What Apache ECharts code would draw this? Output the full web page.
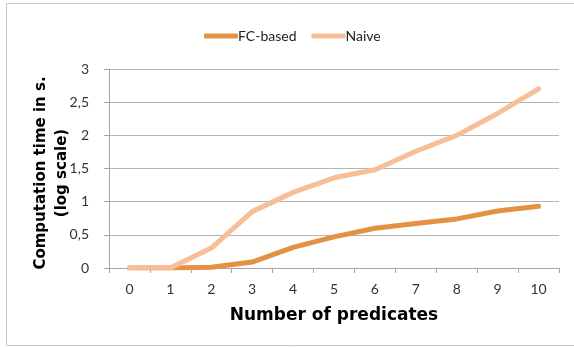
<!DOCTYPE html>
<html><head><meta charset="utf-8">
<script src="https://cdn.jsdelivr.net/npm/echarts@6/dist/echarts.min.js"></script>
<style>html,body{margin:0;padding:0;background:#fff}#c{width:574px;height:347px}</style>
</head><body><div id="c"></div>
<script>
var categories = ['0','1','2','3','4','5','6','7','8','9','10'];
var fcBased = [0, 0, 0.01, 0.09, 0.31, 0.47, 0.6, 0.67, 0.74, 0.86, 0.93];
var naive = [0, 0, 0.3, 0.85, 1.14, 1.36, 1.48, 1.76, 2.0, 2.33, 2.7];
var yTicks = [0, 0.5, 1, 1.5, 2, 2.5, 3];

var chart = echarts.init(document.getElementById('c'), null, {renderer: 'canvas'});
var labelFont = 'Lato, "Open Sans", sans-serif';
chart.setOption({
  animation: false,
  graphic: [{
    type: 'rect', shape: {x: 6.5, y: 3.5, width: 600, height: 342},
    style: {fill: 'none', stroke: '#c8c8c8', lineWidth: 1}, silent: true, z: -1
  }, {
    type: 'text', rotation: Math.PI / 2,
    style: {text: 'Computation time in s.\n(log scale)', font: 'bold 15px "DejaVu Sans", sans-serif',
      fill: '#000', align: 'center', verticalAlign: 'middle', lineHeight: 21},
    x: 52, y: 173
  }],
  legend: {
    top: 24, left: 199, itemWidth: 34, itemHeight: 5, itemGap: 15,
    icon: 'roundRect',
    textStyle: {fontFamily: labelFont, fontSize: 14, color: '#222', padding: [0,0,0,-5]},
    data: ['FC-based', 'Naive']
  },
  grid: {left: 109, right: 15, top: 69, bottom: 79, containLabel: false},
  xAxis: {
    type: 'category', data: categories, boundaryGap: true,
    name: 'Number of predicates', nameLocation: 'middle', nameGap: 39,
    nameTextStyle: {fontFamily: '"DejaVu Sans", sans-serif', fontWeight: 'bold', fontSize: 17, color: '#000'},
    axisLine: {lineStyle: {color: '#a6a6a6', width: 1}},
    axisTick: {show: true, alignWithLabel: false, length: 5, lineStyle: {color: '#a6a6a6'}},
    axisLabel: {fontFamily: labelFont, fontSize: 14, color: '#333', margin: 14}
  },
  yAxis: {
    type: 'value', min: 0, max: 3, interval: 0.5,
    axisLine: {show: true, lineStyle: {color: '#a6a6a6', width: 1}},
    axisTick: {show: true, length: 5, inside: false, lineStyle: {color: '#a6a6a6'}},
    splitLine: {lineStyle: {color: '#b5b5b5', width: 1}},
    axisLabel: {fontFamily: labelFont, fontSize: 14, color: '#333', margin: 20,
      formatter: function (v) { return String(v).replace('.', ','); }}
  },
  series: [{
    name: 'FC-based', type: 'line', data: fcBased, symbol: 'none',
    lineStyle: {color: '#E39245', width: 5, cap: 'round', join: 'round'},
    itemStyle: {color: '#E39245'}, z: 2
  }, {
    name: 'Naive', type: 'line', data: naive, symbol: 'none',
    lineStyle: {color: '#F7BE97', width: 5, cap: 'round', join: 'round'},
    itemStyle: {color: '#F7BE97'}, z: 3
  }]
});
</script></body></html>
